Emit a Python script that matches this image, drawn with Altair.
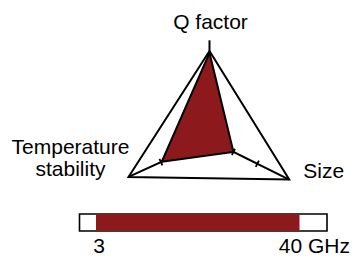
import math
import altair as alt
import pandas as pd

# ---- data ----
axes = ["Q factor", "Temperature stability", "Size"]
values = [0.98, 0.59, 0.30]
axis_angles = [90, 204.5, 333.6]      # direction of each spoke (deg, CCW)
axis_ends = [1.12, 1.0, 1.0]
tick_levels = [0.3, 0.6]

band_min, band_max = 0, 45            # GHz
band_start, band_end = 3, 40          # GHz
band_labels = ["3", "40 GHz"]

RED = "#8c1a1d"
FONT = "Liberation Sans"
FS = 21


def pt(r, ang):
    a = math.radians(ang)
    return r * math.cos(a), r * math.sin(a)


outline_rows = []
for i, ang in enumerate(axis_angles + axis_angles[:1]):
    x, y = pt(1.0, ang)
    outline_rows.append({"x": x, "y": y, "o": i})
outline = pd.DataFrame(outline_rows)

poly_rows = []
for i, (v, ang) in enumerate(zip(values + values[:1], axis_angles + axis_angles[:1])):
    x, y = pt(v, ang)
    poly_rows.append({"x": x, "y": y, "o": i})
poly = pd.DataFrame(poly_rows)

spoke_rows = []
for name, ang, e in zip(axes, axis_angles, axis_ends):
    x2, y2 = pt(e, ang)
    spoke_rows.append({"x": 0.0, "y": 0.0, "x2": x2, "y2": y2})
spokes = pd.DataFrame(spoke_rows)

tick_rows = []
for ang in axis_angles:
    for lv in tick_levels:
        x, y = pt(lv, ang)
        tick_rows.append({"x": x, "y": y, "rot": (360 - ang) % 360})
ticks = pd.DataFrame(tick_rows)

verts = {name: pt(1.0, ang) for name, ang in zip(axes, axis_angles)}

W, H = 344, 249
CX, CY, R = 201.5, 132.0, 89.0
xs = alt.Scale(domain=[-CX / R, (W - CX) / R], nice=False, zero=False)
ys = alt.Scale(domain=[-(H - CY) / R, CY / R], nice=False, zero=False)
PX_GHZ, X0 = 5.5, 71.5
bs = alt.Scale(domain=[-X0 / PX_GHZ, (W - X0) / PX_GHZ], nice=False, zero=False)

X = lambda f="x": alt.X(f"{f}:Q", scale=xs, axis=None)
Y = lambda f="y": alt.Y(f"{f}:Q", scale=ys, axis=None)

spoke_layer = alt.Chart(spokes).mark_rule(color="black", strokeWidth=2).encode(
    x=X(), y=Y(), x2="x2:Q", y2="y2:Q")

tick_layer = alt.Chart(ticks).mark_point(
    shape="M0,-1L0,1", stroke="black", strokeWidth=1.8, size=49, filled=False, opacity=1
).encode(x=X(), y=Y(), angle=alt.Angle("rot:Q", scale=None))

outline_layer = alt.Chart(outline).mark_line(color="black", strokeWidth=2).encode(
    x=X(), y=Y(), order="o:Q")

poly_layer = alt.Chart(poly).mark_line(
    fill=RED, stroke="black", strokeWidth=2, strokeJoin="miter"
).encode(x=X(), y=Y(), order="o:Q")


def label(text, vert, dx, dy, align):
    vx, vy = verts[vert]
    df = pd.DataFrame({"x": [vx], "y": [vy], "t": [text]})
    return alt.Chart(df).mark_text(
        font=FONT, fontSize=FS, color="black", align=align, baseline="alphabetic",
        dx=dx, dy=dy
    ).encode(x=X(), y=Y(), text="t:N")


lab_q = label("Q factor", "Q factor", 1, -22.5, "center")
lab_t1 = label("Temperature", "Temperature stability", -58, -23.4, "center")
lab_t2 = label("stability", "Temperature stability", -58, -1.4, "center")
lab_s = label("Size", "Size", 14, -1.1, "left")

BAR_TOP, BAR_BOT, LAB_Y = 206, 223, 244.5

box = alt.Chart(pd.DataFrame({"a": [band_min], "b": [band_max]})).mark_rect(
    fill="white", stroke="black", strokeWidth=1.6
).encode(x=alt.X("a:Q", scale=bs, axis=None), x2="b:Q",
         y=alt.value(BAR_TOP), y2=alt.value(BAR_BOT))

band = alt.Chart(pd.DataFrame({"a": [band_start], "b": [band_end]})).mark_rect(
    fill=RED
).encode(x=alt.X("a:Q", scale=bs, axis=None), x2="b:Q",
         y=alt.value(BAR_TOP), y2=alt.value(BAR_BOT))

bl1 = alt.Chart(pd.DataFrame({"v": [band_start], "t": [band_labels[0]]})).mark_text(
    font=FONT, fontSize=FS, color="black", align="center", baseline="alphabetic", dx=3
).encode(x=alt.X("v:Q", scale=bs, axis=None), y=alt.value(LAB_Y), text="t:N")

bl2 = alt.Chart(pd.DataFrame({"v": [band_end], "t": [band_labels[1]]})).mark_text(
    font=FONT, fontSize=FS, color="black", align="right", baseline="alphabetic",
    dx=W - X0 - band_end * PX_GHZ - 2
).encode(x=alt.X("v:Q", scale=bs, axis=None), y=alt.value(LAB_Y), text="t:N")

chart = alt.layer(
    spoke_layer, tick_layer, outline_layer, poly_layer,
    lab_q, lab_t1, lab_t2, lab_s,
    box, band, bl1, bl2
).resolve_scale(x="independent").properties(
    width=W, height=H, padding=0, autosize="none"
).configure_view(stroke=None)

chart.save("out.html", embed_options={"renderer": "svg", "actions": False})
